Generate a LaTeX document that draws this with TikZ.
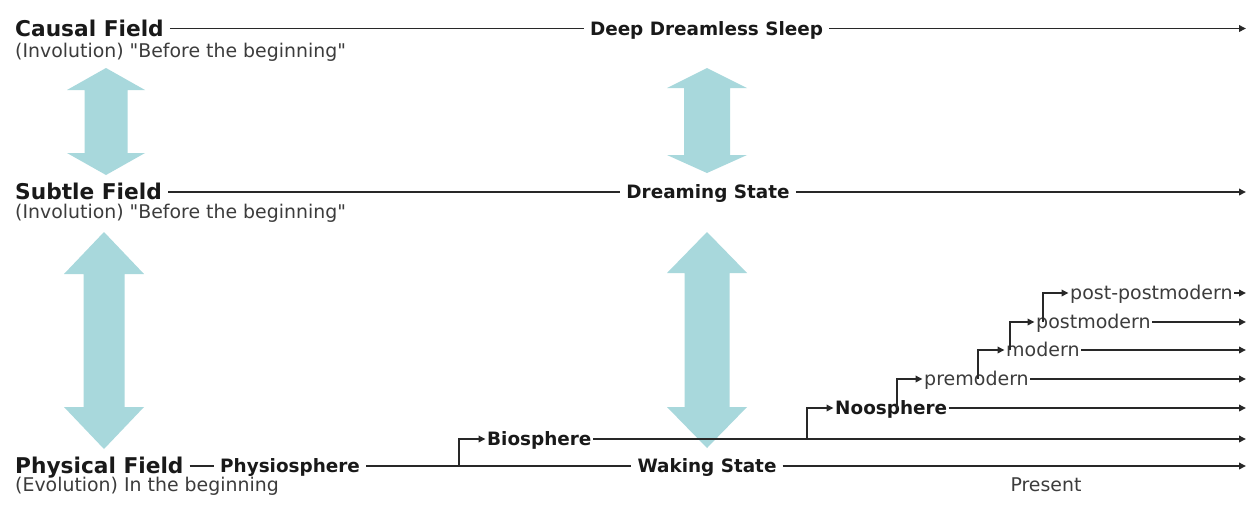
\documentclass[tikz,border=0pt]{standalone}
\usepackage{fontspec}
\setmainfont{DejaVu Sans}[Ligatures=TeXOff]
\usetikzlibrary{arrows.meta}
\definecolor{tealfill}{RGB}{168,216,220}
\definecolor{lncol}{RGB}{40,40,40}
\definecolor{txt}{RGB}{25,25,25}
\definecolor{subtxt}{RGB}{60,60,60}
\tikzset{
  big/.style={font=\fontsize{21.7}{24}\selectfont\bfseries, text=txt, text height=15.8pt, text depth=0pt, inner ysep=0pt, inner xsep=6pt, anchor=west},
  midb/.style={font=\fontsize{18.4}{22}\selectfont\bfseries, text=txt, text height=13.4pt, text depth=0pt, inner ysep=0pt, inner xsep=6pt},
  brb/.style={font=\fontsize{18.4}{22}\selectfont\bfseries, text=txt, text height=13.4pt, text depth=0pt, inner ysep=0pt, inner xsep=1.5pt, anchor=west},
  brr/.style={font=\fontsize{19}{22}\selectfont, text=subtxt, text height=13.9pt, text depth=0pt, inner ysep=0pt, inner xsep=1.5pt, anchor=west},
  subl/.style={font=\fontsize{18.9}{22}\selectfont, text=subtxt, inner sep=0pt, anchor=base west},
  ln/.style={draw=lncol, line width=1.8pt},
  arr/.style={ln, -{Triangle[length=7pt,width=6.5pt]}},
  dblfill/.style={fill=tealfill, draw=none},
}
\newcommand\dblarrow[7]{% cx, top apex, top base, bottom base, bottom apex, head half, shaft half
  \fill[dblfill] (#1,#2) -- (#1+#6,#3) -- (#1+#7,#3) -- (#1+#7,#4) -- (#1+#6,#4) -- (#1,#5)
     -- (#1-#6,#4) -- (#1-#7,#4) -- (#1-#7,#3) -- (#1-#6,#3) -- cycle;}
\begin{document}
\begin{tikzpicture}[x=1pt,y=-1pt]
\useasboundingbox[fill=white] (0,0) rectangle (1247,507);
% double arrows
\dblarrow{106}{68}{90}{153}{175}{39}{21.5}
\dblarrow{104}{232}{274}{407}{449}{40}{20.5}
\dblarrow{707}{68}{88}{155}{173}{40}{23}
\dblarrow{707}{232}{273}{407}{448}{40}{22.5}
% right end reference
\coordinate (rx) at (1246,0);
% Causal row
\node[big] (cf) at (9,28.5) {Causal Field};
\node[midb] (dds) at (706.5,28.5) {Deep Dreamless Sleep};
\node[subl] (cfs) at (15,57) {(Involution) "Before the beginning"};
\draw[ln] (cf.east) -- (dds.west);
\draw[arr] (dds.east) -- (dds.east -| rx);
% Subtle row
\node[big] (sf) at (9,192) {Subtle Field};
\node[midb] (dst) at (708,192) {Dreaming State};
\node[subl] (sfs) at (15,218) {(Involution) "Before the beginning"};
\draw[ln] (sf.east) -- (dst.west);
\draw[arr] (dst.east) -- (dst.east -| rx);
% Physical row
\node[big] (pf) at (9,466) {Physical Field};
\node[midb, anchor=west] (ps) at (214,466) {Physiosphere};
\node[midb] (wk) at (707,466) {Waking State};
\node[subl] (pfs) at (15,491) {(Evolution) In the beginning};
\draw[ln] (pf.east) -- (ps.west);
\draw[ln] (ps.east) -- (wk.west);
\draw[arr] (wk.east) -- (wk.east -| rx);
\node[subl, anchor=base] (pr) at (1046,491) {Present};
% Biosphere
\coordinate (b1) at (459,466);
\node[brb] (bio) at (485.5,439) {Biosphere};
\draw[arr] (b1) |- (bio.west);
\draw[arr] (bio.east) -- (bio.east -| rx);
% Noosphere
\coordinate (b2) at (807,439);
\node[brb] (noo) at (833.5,408) {Noosphere};
\draw[arr] (b2) |- (noo.west);
\draw[arr] (noo.east) -- (noo.east -| rx);
% premodern
\coordinate (b3) at (897,408);
\node[brr] (pre) at (922.5,379) {premodern};
\draw[arr] (b3) |- (pre.west);
\draw[arr] (pre.east) -- (pre.east -| rx);
% modern
\coordinate (b4) at (978,379);
\node[brr] (mod) at (1004.5,350) {modern};
\draw[arr] (b4) |- (mod.west);
\draw[arr] (mod.east) -- (mod.east -| rx);
% postmodern
\coordinate (b5) at (1010,350);
\node[brr] (pst) at (1034.5,322) {postmodern};
\draw[arr] (b5) |- (pst.west);
\draw[arr] (pst.east) -- (pst.east -| rx);
% post-postmodern
\coordinate (b6) at (1043,322);
\node[brr] (pp) at (1068.5,293) {post-postmodern};
\draw[arr] (b6) |- (pp.west);
\draw[arr] (pp.east) -- (pp.east -| rx);
\end{tikzpicture}
\end{document}
